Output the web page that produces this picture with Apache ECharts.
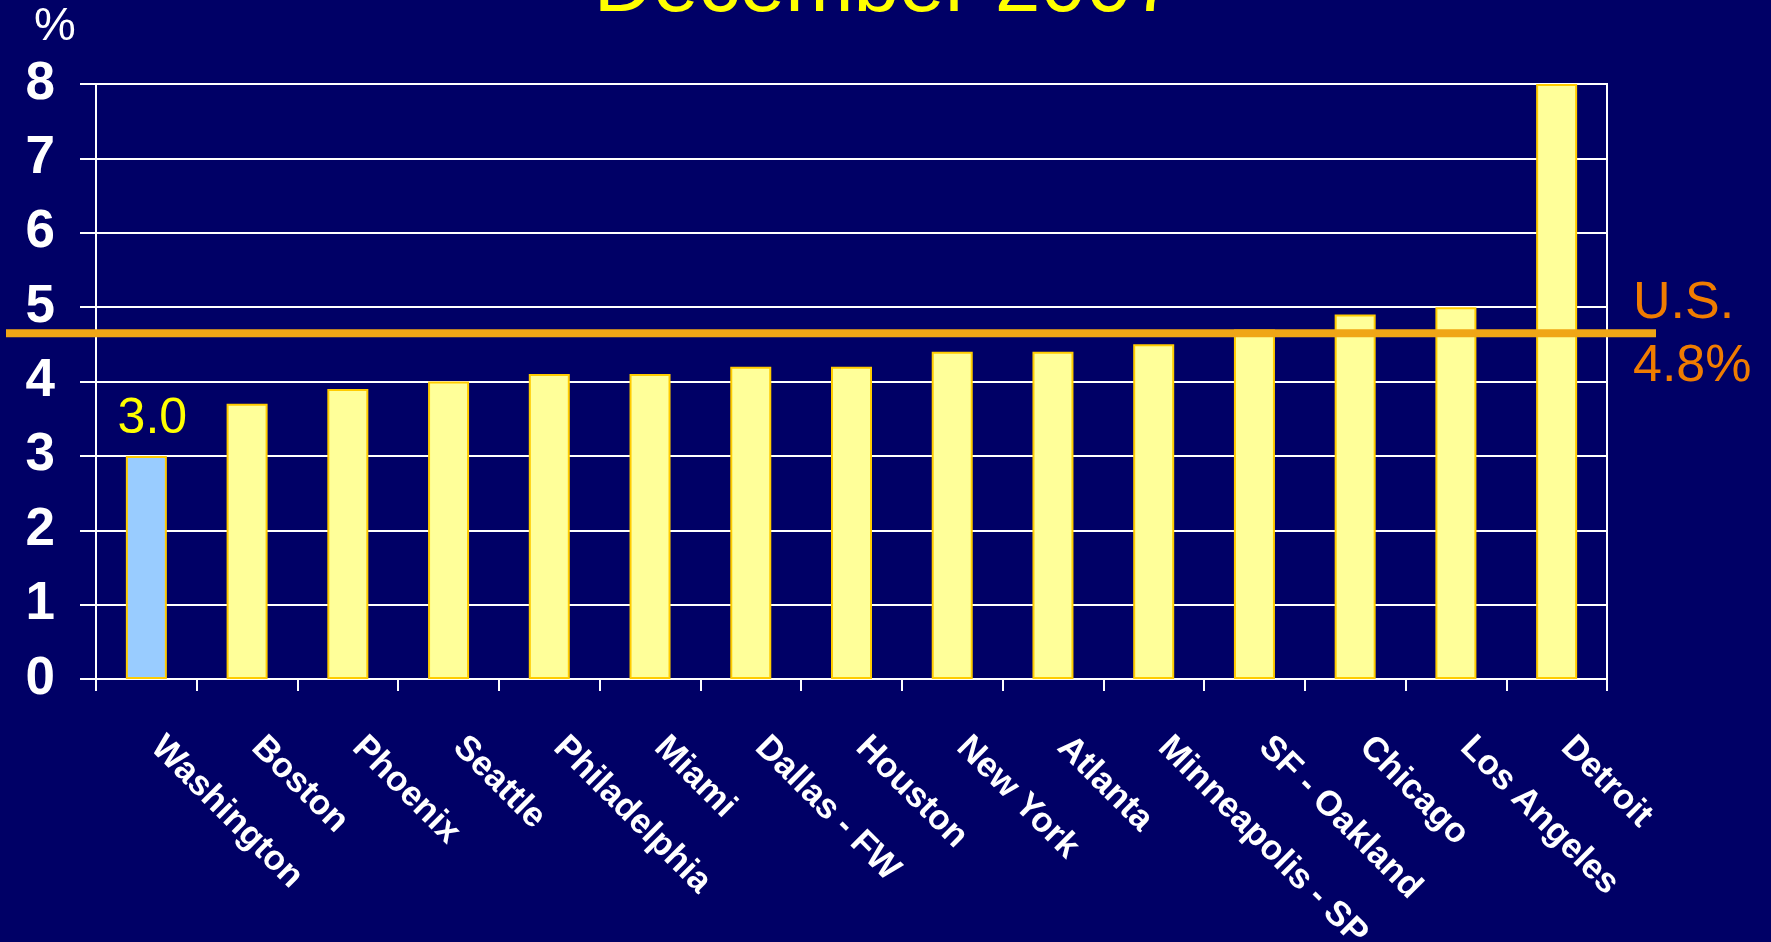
<!DOCTYPE html>
<html>
<head>
<meta charset="utf-8">
<script src="https://cdn.jsdelivr.net/npm/echarts@6/dist/echarts.min.js"></script>
<style>
html,body{margin:0;padding:0;background:#000066;}
#chart{width:1771px;height:942px;}
</style>
</head>
<body>
<div id="chart"></div>
<script>
// ---- data ----
const categories = ['Washington','Boston','Phoenix','Seattle','Philadelphia','Miami','Dallas - FW','Houston','New York','Atlanta','Minneapolis - SP','SF - Oakland','Chicago','Los Angeles','Detroit'];
const values = [3.0, 3.7, 3.9, 4.0, 4.1, 4.1, 4.2, 4.2, 4.4, 4.4, 4.5, 4.7, 4.9, 5.0, 8.0];
const highlightIndex = 0;           // Washington (blue bar, labelled)
const usLineValue = 4.65;           // where the U.S. reference line is drawn
const usLabel = ['U.S.', '4.8%'];
const yTicks = [0, 1, 2, 3, 4, 5, 6, 7, 8];
const titleText = 'December 2007';
const unitText = '%';

const FONT = '"Liberation Sans", Arial, Helvetica, sans-serif';
const chart = echarts.init(document.getElementById('chart'), null, {renderer: 'canvas'});

const barData = values.map((v, i) => {
  if (i === highlightIndex) {
    return {
      value: v,
      itemStyle: {color: '#99CCFF'},
      label: {
        show: true, position: 'top', distance: 12, offset: [6, 0],
        color: '#FFFF00', fontSize: 50, fontFamily: FONT,
        formatter: p => p.value.toFixed(1)
      }
    };
  }
  return v;
});

const option = {
  backgroundColor: '#000066',
  animation: false,
  graphic: [
    {type: 'text', left: 'center', z: 10,
      style: {text: titleText, fill: '#FFFF00', font: '82px ' + FONT}, top: -53},
    {type: 'text', z: 10, x: 34, y: 51,
      style: {text: unitText, fill: '#FFFFFF', font: '47px ' + FONT, verticalAlign: 'bottom'}},
    {type: 'text', z: 10, x: 1633, y: 330,
      style: {text: usLabel[0], fill: '#F07C00', font: '52px ' + FONT, verticalAlign: 'bottom'}},
    {type: 'text', z: 10, x: 1633, y: 393,
      style: {text: usLabel[1], fill: '#F07C00', font: '52px ' + FONT, verticalAlign: 'bottom'}}
  ],
  grid: [
    {left: 96, right: 164, top: 84, bottom: 263, show: true, borderColor: '#FFFFFF', borderWidth: 2,
      backgroundColor: 'transparent', containLabel: false, outerBoundsMode: 'none'},
    {left: 6, right: 115, top: 84, bottom: 263, show: false, containLabel: false, outerBoundsMode: 'none'}
  ],
  xAxis: [
    {
      type: 'category', data: categories, gridIndex: 0,
      axisLine: {lineStyle: {color: '#FFFFFF', width: 2}},
      axisTick: {show: true, length: 12, lineStyle: {color: '#FFFFFF', width: 2}},
      axisLabel: {rotate: -45, margin: 53, padding: [0, 0, 32, 14], color: '#FFFFFF', fontSize: 35, fontWeight: 'bold', fontFamily: FONT, interval: 0}
    },
    {type: 'value', gridIndex: 1, min: 0, max: 1, show: false}
  ],
  yAxis: [
    {
      type: 'value', gridIndex: 0, min: yTicks[0], max: yTicks[yTicks.length - 1], interval: 1,
      axisLine: {show: true, lineStyle: {color: '#FFFFFF', width: 2}},
      axisTick: {show: true, length: 16, lineStyle: {color: '#FFFFFF', width: 2}},
      splitLine: {show: true, lineStyle: {color: '#FFFFFF', width: 2}},
      axisLabel: {margin: 41, color: '#FFFFFF', fontSize: 53, fontWeight: 'bold', fontFamily: FONT}
    },
    {type: 'value', gridIndex: 1, min: yTicks[0], max: yTicks[yTicks.length - 1], show: false}
  ],
  series: [
    {
      type: 'bar', xAxisIndex: 0, yAxisIndex: 0, data: barData, barWidth: 41,
      itemStyle: {color: '#FFFF99', borderColor: '#FFCC00', borderWidth: 2},
      z: 2
    },
    {
      type: 'line', xAxisIndex: 1, yAxisIndex: 1,
      data: [[0, usLineValue], [1, usLineValue]],
      symbol: 'none', lineStyle: {color: '#F0A616', width: 8}, z: 5, clip: false
    }
  ]
};
chart.setOption(option);
</script>
</body>
</html>
